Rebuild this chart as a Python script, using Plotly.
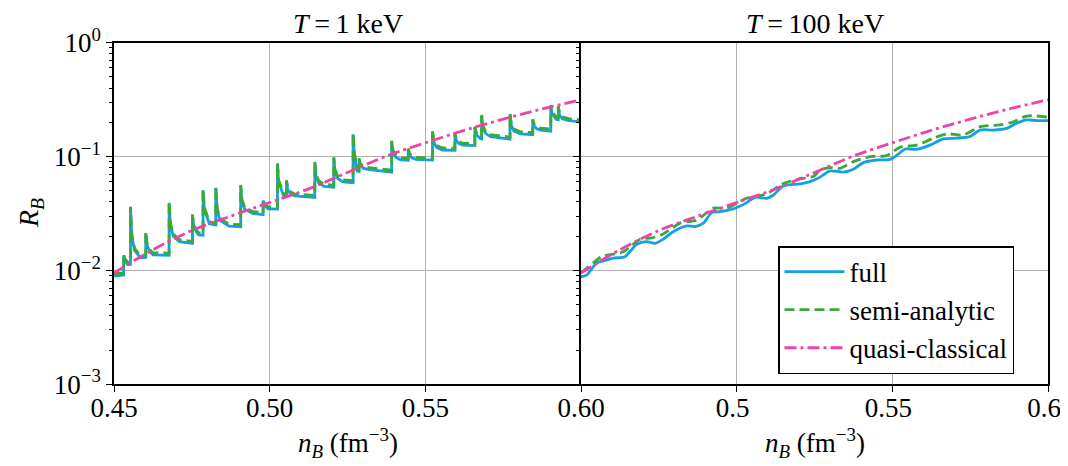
import plotly.graph_objects as go

# ---------------- data ----------------
# Left panel (T = 1 keV): resonance spikes
spike_n = [0.4531, 0.4553, 0.4602, 0.4677, 0.4752, 0.4786, 0.4827, 0.4907, 0.4979, 0.5025,
           0.5054, 0.5145, 0.5206, 0.5268, 0.5287, 0.5392, 0.5445, 0.5523, 0.5595, 0.5659,
           0.5681, 0.5772, 0.5845, 0.5903, 0.5927]
mid_n = [0.4535, 0.4557, 0.4606, 0.4681, 0.4756, 0.4790, 0.4831, 0.4911, 0.4983, 0.5029,
         0.5058, 0.5149, 0.5210, 0.5272, 0.5291, 0.5396, 0.5449, 0.5527, 0.5599, 0.5663,
         0.5685, 0.5776, 0.5849, 0.5907, 0.5931]
tail_n = [0.4542, 0.4566, 0.4615, 0.4690, 0.4765, 0.4799, 0.4840, 0.4920, 0.4992, 0.5038,
          0.5067, 0.5158, 0.5219, 0.5278, 0.5300, 0.5405, 0.5458, 0.5536, 0.5608, 0.5672,
          0.5694, 0.5785, 0.5858, 0.5916, 0.5940]
decay_n = [0.4545, 0.4585, 0.4625, 0.4710, 0.4772, 0.4806, 0.4870, 0.4945, 0.4995, 0.5045,
           0.5080, 0.5175, 0.5235, 0.5281, 0.5320, 0.5420, 0.5470, 0.5555, 0.5620, 0.5676,
           0.5710, 0.5805, 0.5870, 0.5920, 0.5960]
start_n = 0.45
end_n = 0.60

semi_valley = [0.0095, 0.0118, 0.0136, 0.0142, 0.0180, 0.0212, 0.0260, 0.0252, 0.0322, 0.0360,
               0.0465, 0.0455, 0.0560, 0.0615, 0.0770, 0.0760, 0.0965, 0.0970, 0.1180, 0.1300,
               0.1490, 0.1480, 0.1620, 0.1740, 0.2200]
semi_peak = [0.0139, 0.0363, 0.0218, 0.0400, 0.0311, 0.0516, 0.0544, 0.0563, 0.0420, 0.0873,
             0.0620, 0.0900, 0.0986, 0.1600, 0.0966, 0.1380, 0.1180, 0.1690, 0.1620, 0.1830,
             0.2320, 0.2400, 0.2130, 0.2840, 0.2780]
semi_mid = [0.0127, 0.0210, 0.0173, 0.0263, 0.0253, 0.0360, 0.0359, 0.0420, 0.0387, 0.0621,
            0.0533, 0.0700, 0.0767, 0.1078, 0.0871, 0.1140, 0.1069, 0.1393, 0.1441, 0.1641,
            0.1865, 0.1953, 0.1930, 0.2480, 0.2414]
semi_tail = [0.0120, 0.0156, 0.0152, 0.0209, 0.0226, 0.0296, 0.0286, 0.0358, 0.0370, 0.0516,
             0.0490, 0.0610, 0.0669, 0.0869, 0.0823, 0.1027, 0.1012, 0.1254, 0.1352, 0.1545,
             0.1656, 0.1745, 0.1828, 0.2304, 0.2234]
semi_after = [0.0117, 0.0134, 0.0143, 0.0186, 0.0214, 0.0268, 0.0255, 0.0330, 0.0362, 0.0470,
              0.0470, 0.0570, 0.0625, 0.0780, 0.0800, 0.0975, 0.0985, 0.1190, 0.1310, 0.1500,
              0.1560, 0.1650, 0.1780, 0.2220, 0.2150]
semi_start, semi_end = 0.0093, 0.2100

full_valley = [0.0091, 0.0113, 0.0130, 0.0136, 0.0173, 0.0204, 0.0250, 0.0242, 0.0309, 0.0346,
               0.0447, 0.0437, 0.0538, 0.0590, 0.0740, 0.0730, 0.0926, 0.0931, 0.1133, 0.1248,
               0.1430, 0.1421, 0.1555, 0.1670, 0.2110]
full_peak = [0.0136, 0.0355, 0.0213, 0.0392, 0.0305, 0.0505, 0.0533, 0.0552, 0.0412, 0.0855,
             0.0607, 0.0882, 0.0966, 0.1570, 0.0947, 0.1352, 0.1156, 0.1656, 0.1588, 0.1793,
             0.2274, 0.2352, 0.2087, 0.2783, 0.2724]
full_mid = [0.0122, 0.0202, 0.0166, 0.0252, 0.0243, 0.0346, 0.0345, 0.0403, 0.0372, 0.0596,
            0.0512, 0.0672, 0.0736, 0.1035, 0.0836, 0.1094, 0.1026, 0.1337, 0.1383, 0.1575,
            0.1790, 0.1875, 0.1853, 0.2381, 0.2317]
full_tail = [0.0115, 0.0150, 0.0146, 0.0201, 0.0217, 0.0284, 0.0275, 0.0344, 0.0355, 0.0495,
             0.0470, 0.0586, 0.0642, 0.0834, 0.0790, 0.0986, 0.0972, 0.1204, 0.1298, 0.1483,
             0.1590, 0.1675, 0.1755, 0.2212, 0.2145]
full_after = [0.0112, 0.0129, 0.0137, 0.0179, 0.0205, 0.0257, 0.0245, 0.0317, 0.0348, 0.0451,
              0.0451, 0.0547, 0.0600, 0.0749, 0.0768, 0.0936, 0.0946, 0.1142, 0.1258, 0.1440,
              0.1498, 0.1584, 0.1709, 0.2131, 0.2064]
full_start, full_end = 0.0089, 0.2016

# Quasi-classical (same curve in both panels)
qc_n = [0.45, 0.4625, 0.475, 0.4875, 0.50, 0.5125, 0.525, 0.5375, 0.55, 0.5625, 0.575, 0.5875, 0.60]
qc_R = [0.0095, 0.0152, 0.0224, 0.0300, 0.0395, 0.0520, 0.0725, 0.1010, 0.1320, 0.1700, 0.2130, 0.2620, 0.3150]

# Right panel (T = 100 keV)
full100_n = [0.4500, 0.4518, 0.4550, 0.4572, 0.4604, 0.4641, 0.4657, 0.4679, 0.4711, 0.4738,
             0.4764, 0.4796, 0.4840, 0.4866, 0.4893, 0.4920, 0.4946, 0.4995, 0.5032, 0.5059,
             0.5096, 0.5118, 0.5150, 0.5203, 0.5236, 0.5268, 0.5300, 0.5343, 0.5375, 0.5407,
             0.5450, 0.5493, 0.5519, 0.5541, 0.5578, 0.5621, 0.5664, 0.5707, 0.5749, 0.5782,
             0.5824, 0.5867, 0.5899, 0.5932, 0.5964, 0.6000]
full100_R = [0.0088, 0.0091, 0.0116, 0.0121, 0.0128, 0.0132, 0.0146, 0.0170, 0.0179, 0.0173,
             0.0188, 0.0219, 0.0246, 0.0243, 0.0260, 0.0322, 0.0328, 0.0352, 0.0394, 0.0439,
             0.0430, 0.0460, 0.0552, 0.0575, 0.0602, 0.0660, 0.0748, 0.0730, 0.0774, 0.0885,
             0.0933, 0.0946, 0.1050, 0.1166, 0.1157, 0.1260, 0.1430, 0.1450, 0.1500, 0.1710,
             0.1710, 0.1770, 0.1960, 0.2100, 0.2070, 0.2070]
semi100_n = [0.4500, 0.4540, 0.4566, 0.4636, 0.4690, 0.4727, 0.4764, 0.4818, 0.4872, 0.4925,
             0.4968, 0.5032, 0.5096, 0.5150, 0.5203, 0.5246, 0.5268, 0.5300, 0.5332, 0.5375,
             0.5428, 0.5482, 0.5525, 0.5578, 0.5632, 0.5675, 0.5728, 0.5782, 0.5846, 0.5889,
             0.5932, 0.6000]
semi100_R = [0.0095, 0.0117, 0.0132, 0.0146, 0.0188, 0.0193, 0.0209, 0.0260, 0.0277, 0.0352,
             0.0352, 0.0430, 0.0470, 0.0580, 0.0636, 0.0667, 0.0760, 0.0800, 0.0789, 0.0902,
             0.1000, 0.1020, 0.1210, 0.1260, 0.1450, 0.1580, 0.1550, 0.1830, 0.1900, 0.2020,
             0.2270, 0.2220]

y_tickvals = [0.001, 0.01, 0.1, 1]
y_ticktext = ["10<sup>−3</sup>", "10<sup>−2</sup>", "10<sup>−1</sup>", "10<sup>0</sup>"]
x1_tickvals = [0.45, 0.50, 0.55, 0.60]
x1_ticktext = ["0.45", "0.50", "0.55", "0.60"]
x2_tickvals = [0.45, 0.50, 0.55, 0.60]
x2_ticktext = ["", "0.5", "0.55", "0.6"]
panel_titles = ["<i>T</i>\u2009=\u20091 keV", "<i>T</i>\u2009=\u2009100 keV"]
x_title = "<i>n<sub>B</sub></i> (fm<sup>−3</sup>)"
y_title = "<i>R<sub>B</sub></i>"
series_names = ["full", "semi-analytic", "quasi-classical"]

minor_vals = [k * 10.0 ** e for e in (-3, -2, -1) for k in range(2, 10)]


def build(valley, peak, mid, tail, after, y0, y1):
    xs, ys = [start_n], [y0]
    for k in range(len(spike_n)):
        xs += [spike_n[k], spike_n[k], mid_n[k], tail_n[k], decay_n[k]]
        ys += [valley[k], peak[k], mid[k], tail[k], after[k]]
    xs.append(end_n)
    ys.append(y1)
    return xs, ys


full_x, full_y = build(full_valley, full_peak, full_mid, full_tail, full_after, full_start, full_end)
semi_x, semi_y = build(semi_valley, semi_peak, semi_mid, semi_tail, semi_after, semi_start, semi_end)

# ---------------- styling ----------------
BLUE = "#14A0E4"
GREEN = "#3BAA34"
PINK = "#EE44AA"
FONT = "Liberation Serif"
# page body has an 8px margin -> figure drawn 8px less in each direction
W, H = 1060, 458
OFF = 8
L1, R1, R2 = 114 - OFF, 581 - OFF, 1048 - OFF
TOP, BOT = 42.7 - OFF, 384.3 - OFF

fig = go.Figure()
lw = 2.8
QC_DASH = "12px,4px,3px,4px"
SA_DASH = "10px,5px"
fig.add_trace(go.Scatter(x=full_x, y=full_y, mode="lines", line=dict(color=BLUE, width=lw),
                         xaxis="x", yaxis="y", showlegend=False, name=series_names[0]))
fig.add_trace(go.Scatter(x=semi_x, y=semi_y, mode="lines", line=dict(color=GREEN, width=lw, dash=SA_DASH),
                         xaxis="x", yaxis="y", showlegend=False, name=series_names[1]))
fig.add_trace(go.Scatter(x=qc_n, y=qc_R, mode="lines", line=dict(color=PINK, width=lw, dash=QC_DASH, shape="spline"),
                         xaxis="x", yaxis="y", showlegend=False, name=series_names[2]))

fig.add_trace(go.Scatter(x=full100_n, y=full100_R, mode="lines", line=dict(color=BLUE, width=lw, shape="spline", smoothing=0.8),
                         xaxis="x2", yaxis="y2", name=series_names[0]))
fig.add_trace(go.Scatter(x=semi100_n, y=semi100_R, mode="lines", line=dict(color=GREEN, width=lw, dash=SA_DASH, shape="spline", smoothing=0.8),
                         xaxis="x2", yaxis="y2", name=series_names[1]))
fig.add_trace(go.Scatter(x=qc_n, y=qc_R, mode="lines", line=dict(color=PINK, width=lw, dash=QC_DASH, shape="spline"),
                         xaxis="x2", yaxis="y2", name=series_names[2]))

ydom = [1 - BOT / H, 1 - TOP / H]
tickfont = dict(family=FONT, size=27, color="black")
grid = "#b0b0b0"
common_x = dict(range=[0.45, 0.60], showline=True, linecolor="black", linewidth=1.5, mirror=True,
                ticks="outside", ticklen=6, tickwidth=1.2, tickcolor="black", showgrid=True,
                gridcolor=grid, gridwidth=1, zeroline=False, tickfont=tickfont, tickmode="array",
                automargin=False, ticklabelstandoff=-7, ticklabeloverflow="allow")
common_y = dict(type="log", range=[-3, 0], showline=True, linecolor="black", linewidth=1.5,
                ticks="outside", ticklen=6, tickwidth=1.2, tickcolor="black", showgrid=True,
                gridcolor=grid, gridwidth=1, zeroline=False, tickfont=tickfont, tickmode="array",
                tickvals=y_tickvals, ticktext=y_ticktext, domain=ydom, automargin=False,
                minor=dict(ticks="outside", ticklen=3.5, tickwidth=1, tickcolor="black",
                           tickmode="array", tickvals=minor_vals, showgrid=False))

fig.update_layout(
    width=W, height=H, margin=dict(l=0, r=0, t=0, b=0, autoexpand=False),
    paper_bgcolor="white", plot_bgcolor="white",
    font=dict(family=FONT, color="black", size=26),
    xaxis=dict(domain=[L1 / W, R1 / W], anchor="y", tickvals=x1_tickvals, ticktext=x1_ticktext, **common_x),
    yaxis=dict(anchor="x", showticklabels=True, mirror=False, **common_y),
    xaxis2=dict(domain=[R1 / W, R2 / W], anchor="y2", tickvals=x2_tickvals, ticktext=x2_ticktext,
                ticklabelshift=-4, **common_x),
    yaxis2=dict(anchor="x2", showticklabels=False, mirror=True, **common_y),
    legend=dict(x=(778 - OFF) / W, y=1 - (246 - OFF) / H, xanchor="left", yanchor="top",
                bgcolor="white", bordercolor="black", borderwidth=1.5, itemwidth=60,
                font=dict(family=FONT, size=27, color="black"), tracegroupgap=0),
)

ann = []
for i, (a, b) in enumerate([(L1, R1), (R1, R2)]):
    cx = (a + b) / 2 / W
    ann.append(dict(text=panel_titles[i], x=cx, y=1 - (24 - OFF) / H, xref="paper", yref="paper",
                    showarrow=False, font=dict(family=FONT, size=28), xanchor="center", yanchor="middle"))
    ann.append(dict(text=x_title, x=cx, y=1 - (443 - OFF) / H, xref="paper", yref="paper",
                    showarrow=False, font=dict(family=FONT, size=27), xanchor="center", yanchor="middle"))
ann.append(dict(text=y_title, x=(30 - OFF) / W, y=1 - (213 - OFF) / H, xref="paper", yref="paper",
                showarrow=False, textangle=-90, font=dict(family=FONT, size=28), xanchor="center", yanchor="middle"))
fig.update_layout(annotations=ann)

fig.write_html("out.html")
